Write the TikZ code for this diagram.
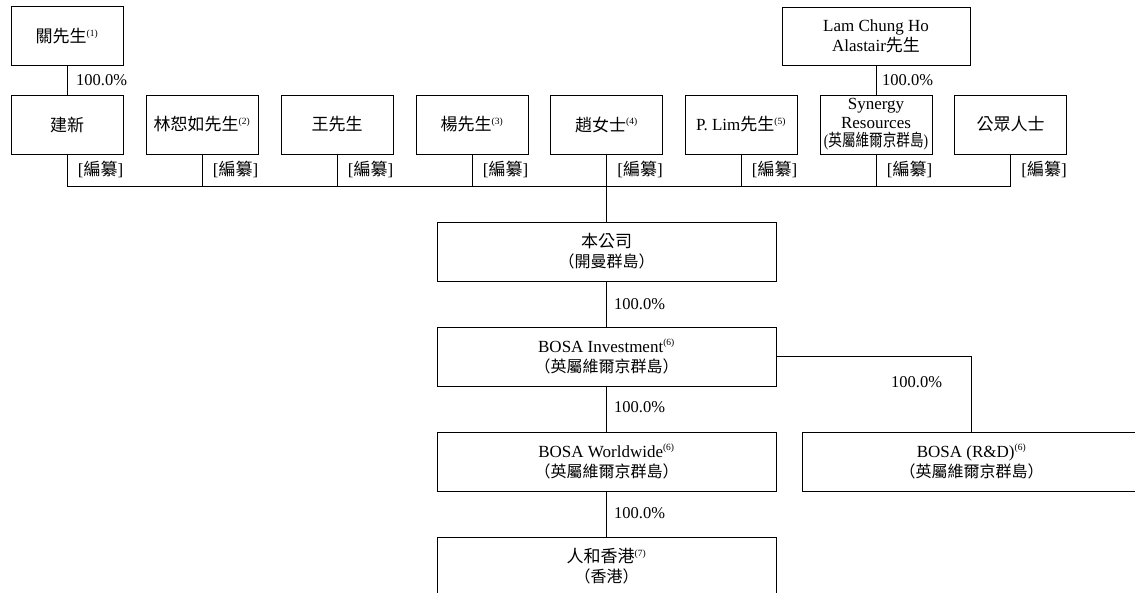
\documentclass[tikz,border=0pt]{standalone}
\usepackage{fontspec}
\usepackage{graphicx}
\setmainfont{Liberation Serif}
\newfontfamily\cjkf{Noto Sans CJK TC}
\newcommand{\zh}[1]{{\cjkf #1}}
\newcommand{\fn}[1]{\textsuperscript{\fontsize{9.5}{9.5}\selectfont(#1)}}
\newcommand{\loc}[1]{{\fontsize{16}{20}\selectfont\cjkf #1}}
\begin{document}
\begin{tikzpicture}[x=1pt,y=-1pt,
  box/.style={draw, line width=0.8pt, inner sep=0pt, align=center, font=\fontsize{17}{20}\selectfont},
  topbox/.style={box, minimum width=112pt, minimum height=59pt},
  midbox/.style={box, minimum width=339pt, minimum height=59pt},
  conn/.style={line width=0.8pt},
  pct/.style={font=\fontsize{16.5}{16.5}\selectfont, inner sep=0pt, anchor=west},
  redact/.style={font=\fontsize{17}{17}\selectfont, inner sep=0pt, anchor=east}
]
\useasboundingbox (0,0) rectangle (1135,593);
\clip (0,0) rectangle (1135,593);

% top row
\node[topbox] (guan) at (67,36) {\zh{關先生}\fn{1}};
\node[box, minimum width=188pt, minimum height=58pt] (lam) at (876,36.5) {Lam Chung Ho\\Alastair\zh{先生}};

\node[topbox] (jx) at (67,124.5) {\zh{建新}};
\node[topbox] (lin) at (202,124.5) {\zh{林恕如先生}\fn{2}};
\node[topbox] (wang) at (337,124.5) {\zh{王先生}};
\node[topbox] (yang) at (472,124.5) {\zh{楊先生}\fn{3}};
\node[topbox] (zhao) at (606.5,124.5) {\zh{趙女士}\fn{4}};
\node[topbox] (plim) at (741,124.5) {P. Lim\zh{先生}\fn{5}};
\node[topbox, font=\fontsize{17}{18.5}\selectfont] (syn) at (876,124.5) {Synergy\\Resources\\\scalebox{0.8}[1]{(\zh{英屬維爾京群島})}};
\node[topbox] (pub) at (1010.5,124.5) {\zh{公眾人士}};

% lower boxes
\node[midbox] (ben) at (606.5,251.5) {\zh{本公司}\\\loc{（開曼群島）}};
\node[midbox] (inv) at (606.5,356.5) {BOSA Investment\fn{6}\\\loc{（英屬維爾京群島）}};
\node[midbox] (ww) at (606.5,461.5) {BOSA Worldwide\fn{6}\\\loc{（英屬維爾京群島）}};
\node[midbox] (rd) at (971.5,461.5) {BOSA (R\&D)\fn{6}\\\loc{（英屬維爾京群島）}};
\node[midbox] (rh) at (606.5,566.5) {\zh{人和香港}\fn{7}\\\loc{（香港）}};

% bus line
\coordinate (bus) at (0,186);
\foreach \n in {jx,lin,wang,yang,zhao,plim,syn,pub}{
  \draw[conn] (\n.south) -- (\n.south |- bus);
  \node[redact] (r\n) at ([yshift=-15pt]\n.south east) {[\zh{編纂}]};
}
\draw[conn] (jx.south |- bus) -- (pub.south |- bus);
\draw[conn] (ben.north |- bus) -- (ben.north);

\draw[conn] (guan) -- (jx);
\draw[conn] (lam) -- (syn);
\draw[conn] (ben) -- (inv);
\draw[conn] (inv) -- (ww);
\draw[conn] (ww) -- (rh);
\draw[conn] (inv.east) -| (rd.north);

% percentages
\node[pct] (p1) at (76,80) {100.0\%};
\node[pct] (p2) at (882,80) {100.0\%};
\node[pct] (p3) at (614,304) {100.0\%};
\node[pct] (p4) at (614,407) {100.0\%};
\node[pct] (p5) at (614,513) {100.0\%};
\node[pct] (p6) at (891,382) {100.0\%};
\end{tikzpicture}
\end{document}
